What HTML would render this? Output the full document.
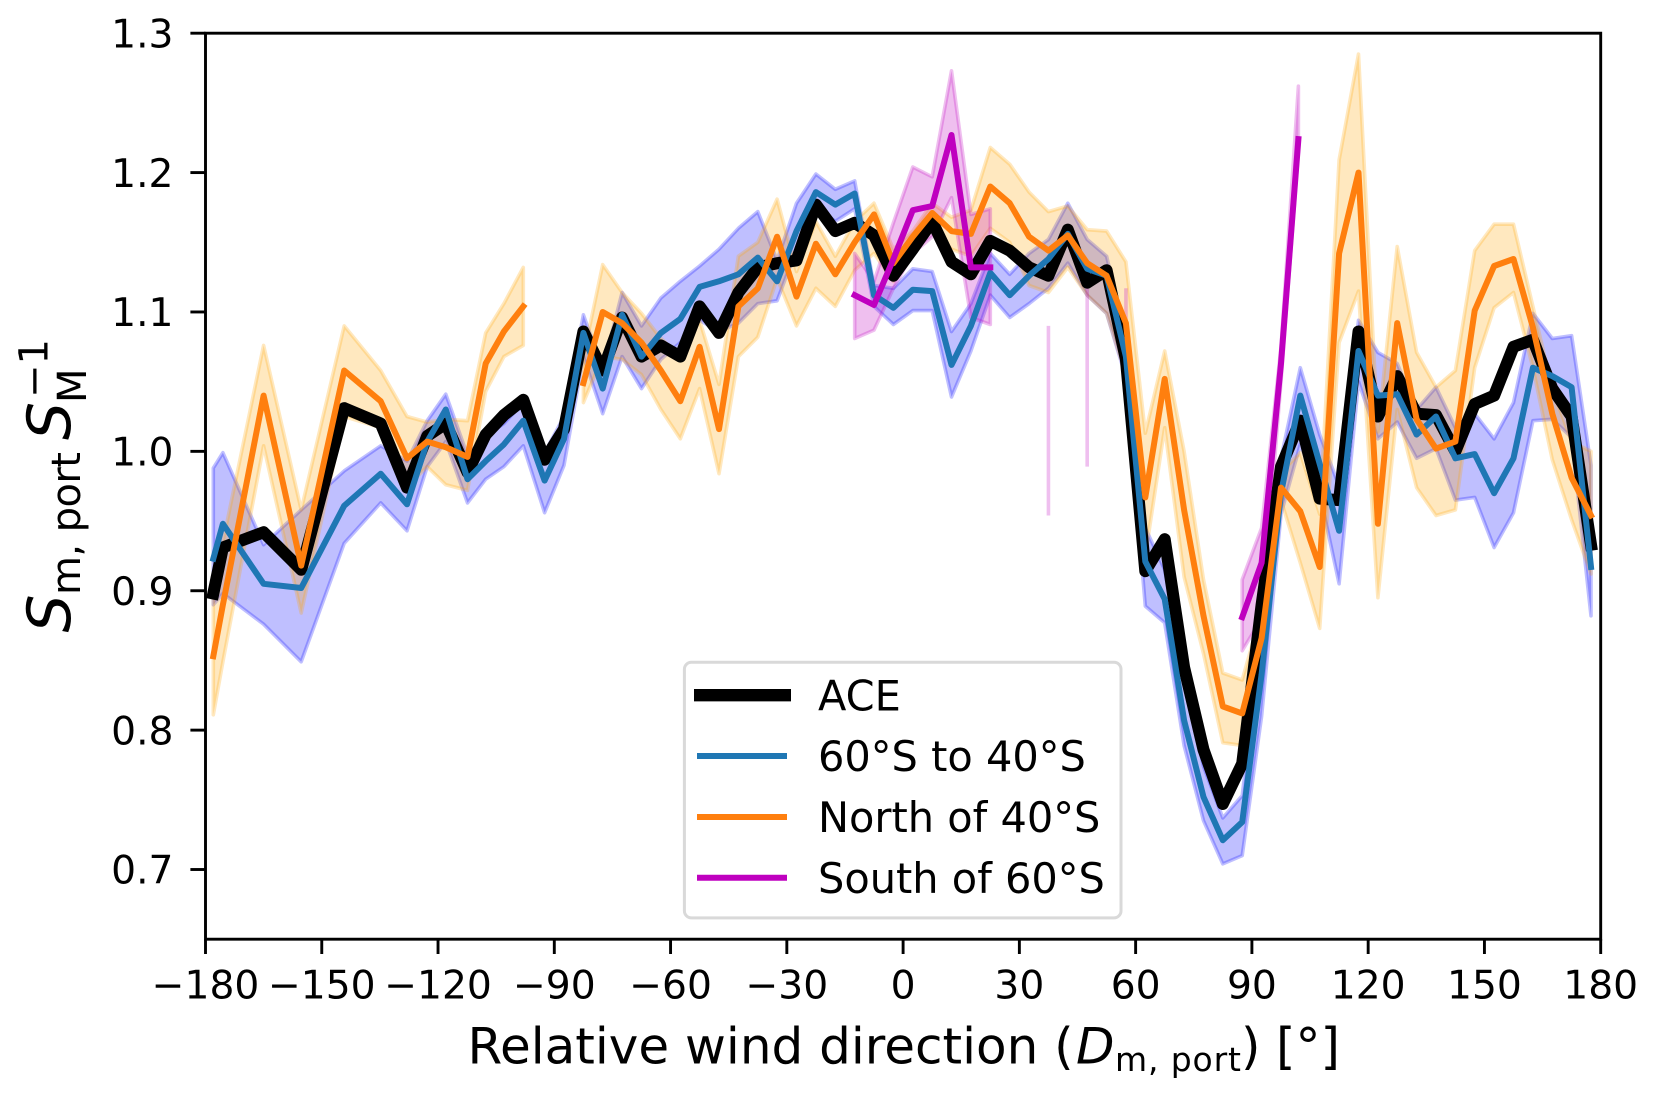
<!DOCTYPE html>
<html lang="en">
<head>
<meta charset="utf-8">
<title>Relative wind direction chart</title>
<style>
html,body{margin:0;padding:0;background:#fff;width:1655px;height:1097px;overflow:hidden}
svg{display:block}
text{font-family:"DejaVu Sans","Liberation Sans",sans-serif;fill:#000}
.it{font-style:italic}
</style>
</head>
<body>
<svg id="chart" xmlns="http://www.w3.org/2000/svg" width="1655" height="1097" viewBox="0 0 1655 1097">
  <rect x="0" y="0" width="1655" height="1097" fill="#fff"/>
  <g id="marks"></g>
  <rect x="205.5" y="33.2" width="1395.2" height="906" fill="none" stroke="#000" stroke-width="2.9"/>
  <g id="xticks"></g>
  <g id="yticks"></g>

  <g>
    <text x="467.5" y="1063.3" font-size="50">Relative wind direction (</text>
    <text class="it" x="1076" y="1063.3" font-size="50">D</text>
    <text x="1115" y="1071" font-size="33" textLength="126" lengthAdjust="spacing">m, port</text>
    <text x="1241" y="1063.3" font-size="50">)</text>
    <text x="1276" y="1063.3" font-size="50">[°]</text>
  </g>

  <g>
    <text class="it" transform="translate(70,632.5) rotate(-90)" font-size="60">S</text>
    <text transform="translate(80,595) rotate(-90)" font-size="40" textLength="143" lengthAdjust="spacing">m, port</text>
    <text class="it" transform="translate(70,440) rotate(-90)" font-size="60">S</text>
    <text transform="translate(86,403) rotate(-90)" font-size="40">M</text>
    <text transform="translate(47.7,398) rotate(-90)" font-size="40">−1</text>
  </g>

  <g>
    <rect x="684.4" y="662.3" width="436.6" height="255.6" rx="7" ry="7" fill="#fff" fill-opacity="0.8" stroke="#d9d9d9" stroke-width="3"/>
    <line x1="694" y1="695.2" x2="791" y2="695.2" stroke="#000" stroke-width="12.4"/>
    <text x="818" y="710.5" font-size="41.5">ACE</text>
    <line x1="697" y1="756" x2="787" y2="756" stroke="#1f77b4" stroke-width="6"/>
    <text x="818" y="771.2" font-size="41.5">60°S to 40°S</text>
    <line x1="697" y1="817" x2="787" y2="817" stroke="#ff7f0e" stroke-width="6"/>
    <text x="818" y="832.2" font-size="41.5">North of 40°S</text>
    <line x1="697" y1="877.8" x2="787" y2="877.8" stroke="#bf00bf" stroke-width="6"/>
    <text x="818" y="893.2" font-size="41.5">South of 60°S</text>
  </g>
</svg>
<script>
var windDirections = [-178,-175.5,-165,-155.3,-144.2,-134.8,-128,-122.8,-118,-112.4,-107.7,-103,-98,-92.5,-87.5,
  -82.5,-77.5,-72.5,-67.5,-62.5,-57.5,-52.5,-47.5,-42.5,-37.5,-32.5,-27.5,-22.5,-17.5,-12.5,-7.5,-2.5,2.5,7.5,12.5,17.5,22.5,27.5,32.5,37.5,42.5,47.5,52.5,
  57.5,62.5,67.5,72.5,77.5,82.5,87.5,92.5,97.5,102.5,107.5,112.5,117.5,122.5,127.5,132.5,137.5,142.5,147.5,152.5,157.5,162.5,167.5,172.5,177.5];

var aceValues = [0.898,0.931,0.942,0.915,1.031,1.020,0.974,1.011,1.020,0.985,1.012,1.026,1.037,0.994,1.016,
  1.086,1.058,1.096,1.068,1.076,1.068,1.104,1.085,1.114,1.132,1.135,1.137,1.177,1.158,1.164,1.155,1.126,1.145,1.165,1.136,1.127,1.151,1.144,1.132,1.126,1.159,1.121,1.130,
  1.066,0.914,0.937,0.845,0.786,0.747,0.776,0.890,0.989,1.022,0.966,0.965,1.086,1.025,1.054,1.027,1.026,1.000,1.034,1.040,1.075,1.080,1.045,1.025,0.933];

var midValues = [0.923,0.948,0.905,0.902,0.961,0.984,0.962,1.007,1.030,0.980,0.993,1.005,1.022,0.979,1.009,
  1.085,1.045,1.098,1.068,1.085,1.095,1.118,1.122,1.127,1.139,1.122,1.158,1.186,1.177,1.185,1.112,1.103,1.116,1.115,1.062,1.090,1.128,1.112,1.126,1.138,1.156,1.131,1.126,
  1.068,0.921,0.894,0.807,0.752,0.721,0.734,0.840,0.970,1.040,0.991,0.943,1.072,1.040,1.041,1.012,1.025,0.995,0.998,0.970,0.995,1.060,1.054,1.046,0.917];
var midUpper = [0.988,0.999,0.933,0.958,0.986,1.004,0.993,1.022,1.041,0.997,1.011,1.020,1.035,0.999,1.025,
  1.098,1.059,1.114,1.090,1.110,1.122,1.133,1.145,1.160,1.172,1.137,1.178,1.199,1.188,1.194,1.119,1.117,1.131,1.129,1.086,1.106,1.142,1.127,1.142,1.152,1.178,1.152,1.140,
  1.081,0.945,0.915,0.840,0.774,0.737,0.753,0.870,0.995,1.060,1.012,0.975,1.094,1.071,1.063,1.030,1.046,1.017,1.027,1.009,1.035,1.099,1.081,1.083,0.990];
var midLower = [0.890,0.898,0.876,0.849,0.934,0.963,0.943,0.989,1.007,0.963,0.980,0.989,1.004,0.956,0.990,
  1.068,1.027,1.068,1.045,1.066,1.078,1.094,1.086,1.092,1.106,1.108,1.145,1.176,1.165,1.174,1.104,1.091,1.101,1.101,1.039,1.072,1.112,1.096,1.106,1.117,1.135,1.112,1.099,
  1.053,0.889,0.877,0.789,0.735,0.704,0.710,0.810,0.955,1.005,0.970,0.905,1.050,1.009,1.021,0.995,1.002,0.965,0.967,0.931,0.956,1.022,1.023,1.010,0.882];

var northValues = [0.853,0.890,1.040,0.918,1.058,1.036,0.995,1.007,1.003,0.996,1.063,1.086,1.104,null,null,
  1.049,1.100,1.092,1.078,1.058,1.036,1.075,1.016,1.104,1.117,1.154,1.111,1.149,1.127,1.150,1.170,1.135,1.154,1.171,1.158,1.156,1.190,1.178,1.154,1.144,1.155,1.135,1.126,
  1.092,0.967,1.052,0.958,0.882,0.817,0.812,0.866,0.974,0.957,0.917,1.142,1.200,0.948,1.092,1.023,1.002,1.007,1.101,1.133,1.138,1.089,1.027,0.981,0.954];
var northUpper = [0.895,0.935,1.076,0.958,1.090,1.058,1.025,1.021,1.023,1.022,1.085,1.106,1.132,null,null,
  1.068,1.134,1.114,1.099,1.081,1.068,1.094,1.048,1.140,1.150,1.181,1.129,1.165,1.140,1.165,1.178,1.145,1.158,1.178,1.168,1.173,1.218,1.206,1.186,1.172,1.176,1.159,1.158,
  1.136,1.013,1.072,1.000,0.908,0.841,0.836,0.885,0.985,0.999,0.955,1.209,1.285,1.014,1.147,1.071,1.046,1.058,1.144,1.163,1.163,1.104,1.045,1.007,1.000];
var northLower = [0.811,0.849,1.004,0.884,1.025,1.017,0.975,0.989,0.976,0.972,1.043,1.068,1.076,null,null,
  1.035,1.068,1.066,1.055,1.030,1.009,1.045,0.984,1.068,1.082,1.124,1.090,1.117,1.104,1.130,1.142,1.122,1.142,1.160,1.145,1.140,1.160,1.150,1.119,1.114,1.132,1.112,1.099,
  1.055,0.925,1.017,0.910,0.855,0.791,0.789,0.845,0.965,0.920,0.873,1.078,1.115,0.895,1.030,0.974,0.954,0.958,1.060,1.103,1.114,1.060,0.994,0.951,0.912];

var southDirectionsA = [-12.5,-7.5,-2.5,2.5,7.5,12.5,17.5,22.5];
var southValuesA = [1.112,1.105,1.138,1.173,1.176,1.227,1.132,1.132];
var southUpperA = [1.142,1.122,1.164,1.204,1.197,1.273,1.170,1.174];
var southLowerA = [1.081,1.087,1.117,1.142,1.154,1.182,1.096,1.091];

var southDirectionsB = [87.5,92.5,97.5,102];
var southValuesB = [0.881,0.920,1.063,1.224];
var southUpperB = [0.908,0.945,1.075,1.262];
var southLowerB = [0.857,0.880,1.050,1.215];

var southBarDirections = [37.5,47.5,57.5];
var southBarUpper = [1.090,1.117,1.117];
var southBarLower = [0.954,0.989,1.090];

var xTickValues = [-180,-150,-120,-90,-60,-30,0,30,60,90,120,150,180];
var yTickValues = [0.7,0.8,0.9,1.0,1.1,1.2,1.3];

var SVGNS = 'http://www.w3.org/2000/svg';
function xScale(d) { return 205.5 + (d + 180) * (1395.2 / 360); }
function yScale(v) { return 939.2 - (v - 0.65) * (906 / 0.65); }

function makeSvg(tag, attrs, parent) {
  var el = document.createElementNS(SVGNS, tag);
  for (var k in attrs) { el.setAttribute(k, attrs[k]); }
  parent.appendChild(el);
  return el;
}

function segments(xs, ys) {
  var out = [], cur = [];
  for (var i = 0; i < xs.length; i++) {
    if (ys[i] === null) {
      if (cur.length) { out.push(cur); }
      cur = [];
    } else {
      cur.push(i);
    }
  }
  if (cur.length) { out.push(cur); }
  return out;
}

function drawBand(xs, upper, lower, color, name, parent) {
  segments(xs, upper).forEach(function (seg) {
    var pts = [];
    seg.forEach(function (i) { pts.push(xScale(xs[i]).toFixed(1) + ',' + yScale(upper[i]).toFixed(1)); });
    seg.slice().reverse().forEach(function (i) { pts.push(xScale(xs[i]).toFixed(1) + ',' + yScale(lower[i]).toFixed(1)); });
    var poly = makeSvg('polygon', {
      points: pts.join(' '), fill: color, 'fill-opacity': 0.25,
      stroke: color, 'stroke-opacity': 0.25, 'stroke-width': 3.6, 'stroke-linejoin': 'round'
    }, parent);
    
    
  });
}

function drawLine(xs, ys, color, width, name, parent) {
  segments(xs, ys).forEach(function (seg) {
    var pts = seg.map(function (i) { return xScale(xs[i]).toFixed(1) + ',' + yScale(ys[i]).toFixed(1); });
    var line = makeSvg('polyline', {
      points: pts.join(' '), fill: 'none', stroke: color, 'stroke-width': width,
      'stroke-linejoin': 'round', 'stroke-linecap': 'square'
    }, parent);
    
    
  });
}

var marks = document.getElementById('marks');
drawBand(windDirections, midUpper, midLower, '#0000ff', '60s-to-40s-band', marks);
drawBand(windDirections, northUpper, northLower, '#ffa500', 'north-of-40s-band', marks);
drawBand(southDirectionsA, southUpperA, southLowerA, '#bf00bf', 'south-of-60s-band', marks);
drawBand(southDirectionsB, southUpperB, southLowerB, '#bf00bf', 'south-of-60s-band', marks);
southBarDirections.forEach(function (d, i) {
  var bar = makeSvg('line', {
    x1: xScale(d), x2: xScale(d), y1: yScale(southBarUpper[i]), y2: yScale(southBarLower[i]),
    stroke: '#bf00bf', 'stroke-opacity': 0.25, 'stroke-width': 3.6
  }, marks);
  
  
});
drawLine(windDirections, aceValues, '#000000', 12, 'ace-line', marks);
drawLine(windDirections, midValues, '#1f77b4', 6, '60s-to-40s-line', marks);
drawLine(windDirections, northValues, '#ff7f0e', 6, 'north-of-40s-line', marks);
drawLine(southDirectionsA, southValuesA, '#bf00bf', 6, 'south-of-60s-line', marks);
drawLine(southDirectionsB, southValuesB, '#bf00bf', 6, 'south-of-60s-line', marks);

var xTicks = document.getElementById('xticks');
xTickValues.forEach(function (t) {
  var x = xScale(t);
  var tick = makeSvg('line', { x1: x, x2: x, y1: 939.2, y2: 954, stroke: '#000', 'stroke-width': 2.9 }, xTicks);
  
  
  var label = makeSvg('text', { x: x, y: 998.3, 'font-size': 39.2, 'text-anchor': 'middle' }, xTicks);
  
  
  label.textContent = (t < 0 ? '\u2212' : '') + Math.abs(t);
});

var yTicks = document.getElementById('yticks');
yTickValues.forEach(function (t) {
  var y = yScale(t);
  var tick = makeSvg('line', { x1: 205.5, x2: 190.4, y1: y, y2: y, stroke: '#000', 'stroke-width': 2.9 }, yTicks);
  
  
  var label = makeSvg('text', { x: 173.5, y: y + 14.2, 'font-size': 39.2, 'text-anchor': 'end' }, yTicks);
  
  
  label.textContent = t.toFixed(1);
});
</script>
</body>
</html>
